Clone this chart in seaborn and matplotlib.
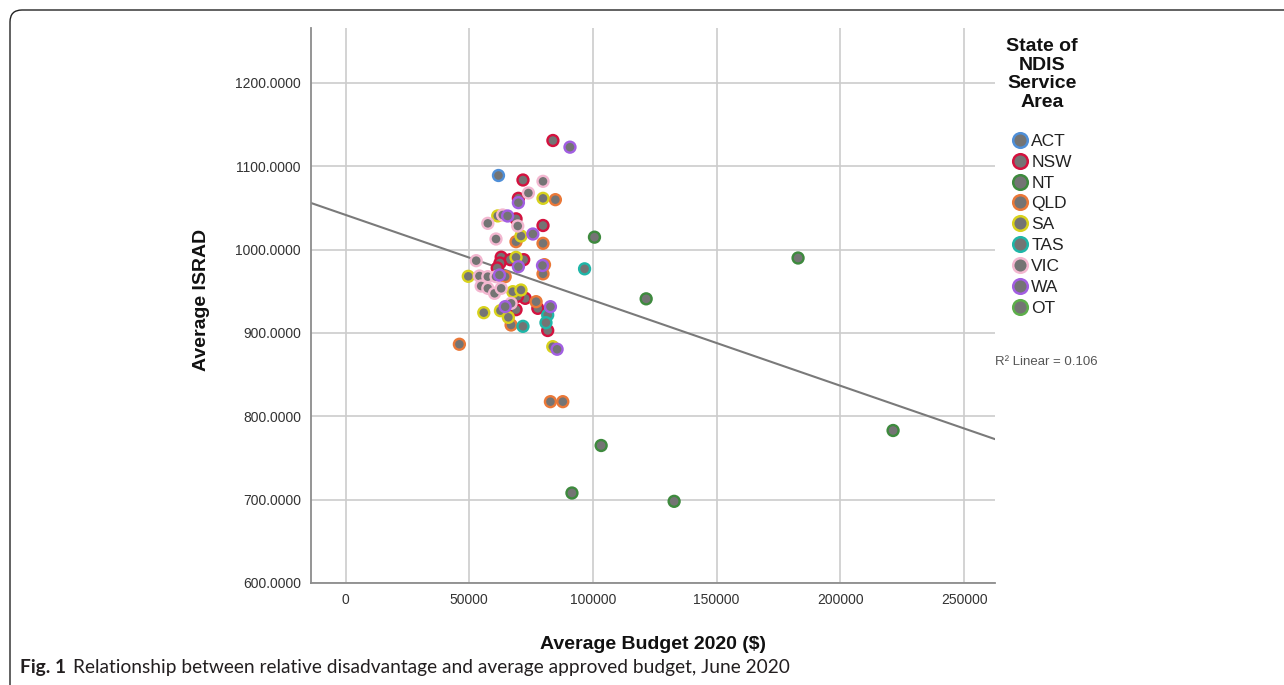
import matplotlib
matplotlib.use("Agg")
import matplotlib.pyplot as plt
from matplotlib.lines import Line2D
from matplotlib.patches import FancyBboxPatch
from matplotlib.transforms import IdentityTransform
import numpy as np
import pandas as pd
import seaborn as sns

# Average approved budget (x, $) and average ISRAD (y) per NDIS service area
states = ["ACT", "NSW", "NT", "QLD", "SA", "TAS", "VIC", "WA", "OT"]

act_budget = [61800]
act_israd = [1089]

nsw_budget = [83800, 71700, 69850, 68900, 79800, 62900, 66600, 72000, 62400,
              61300, 72600, 77700, 68900, 81700, 69500]
nsw_israd = [1131, 1083.6, 1061.6, 1037, 1029, 991, 988, 988, 984,
             978, 941.6, 929.6, 928, 903, 944]

nt_budget = [100600, 121500, 182900, 221300, 103300, 91500, 132800]
nt_israd = [1015, 941, 990, 783, 765, 708, 698]

qld_budget = [84800, 68900, 79800, 80400, 79800, 64500, 77000, 66900, 46000,
              82800, 87800]
qld_israd = [1060, 1009.6, 1007.6, 982, 971, 967.6, 937.6, 909.6, 886.5,
             817.6, 817.6]

sa_budget = [79800, 61500, 70900, 68900, 49600, 55850, 62600, 65800, 67600,
             70900, 83750]
sa_israd = [1061.6, 1040.5, 1016.4, 990.8, 968, 924.4, 926.8, 918.8, 949.6,
            951.6, 883.6]

tas_budget = [96600, 81700, 81000, 71700]
tas_israd = [977, 921.6, 912.4, 908]

vic_budget = [79800, 73900, 63500, 57500, 69600, 60800, 52800, 54100, 57500,
              60800, 54800, 57500, 60200, 62900, 66900]
vic_israd = [1082, 1068, 1041.6, 1031.6, 1028.4, 1012.8, 986.8, 968.4, 967.6,
             967.6, 956.4, 953.6, 947.6, 953.6, 935.6]

wa_budget = [90700, 69850, 65500, 75700, 79600, 69850, 62200, 64500, 82800,
             85500]
wa_israd = [1123, 1056.4, 1040.4, 1018.8, 981, 979.6, 969.6, 931.6, 931.6,
            880.5]

ot_budget = []
ot_israd = []

# Fit line shown on the chart (R^2 linear = 0.106)
fit_intercept = 1041.7
fit_slope = -0.001025
r2_label = "R\u00b2 Linear = 0.106"

x_ticks = [0, 50000, 100000, 150000, 200000, 250000]
y_ticks = [600, 700, 800, 900, 1000, 1100, 1200]

edge_colors = {
    "ACT": "#4f8fd8", "NSW": "#d4123f", "NT": "#3e8a3e", "QLD": "#ea7838",
    "SA": "#d8d21c", "TAS": "#1fb6a8", "VIC": "#f3b7d0", "WA": "#a25ee2",
    "OT": "#5daf4a",
}

series = {
    "ACT": (act_budget, act_israd), "NSW": (nsw_budget, nsw_israd),
    "NT": (nt_budget, nt_israd), "QLD": (qld_budget, qld_israd),
    "SA": (sa_budget, sa_israd), "TAS": (tas_budget, tas_israd),
    "VIC": (vic_budget, vic_israd), "WA": (wa_budget, wa_israd),
    "OT": (ot_budget, ot_israd),
}
rows = []
for st, (bx, iy) in series.items():
    for b, v in zip(bx, iy):
        rows.append({"budget": b, "israd": v, "state": st})
df = pd.DataFrame(rows)

sns.set_style("white")
plt.rcParams["font.family"] = ["Liberation Sans", "DejaVu Sans"]

W, H = 1284, 685
fig = plt.figure(figsize=(W / 100, H / 100), dpi=100)
ax = fig.add_axes([310.7 / W, 1 - 583 / H, (995 - 310.7) / W, (583 - 28) / H])

sns.scatterplot(data=df, x="budget", y="israd", hue="state", hue_order=states,
                palette=edge_colors, s=62, linewidth=0, legend=False, ax=ax,
                zorder=3)
pts = ax.collections[0]
rim = pts.get_facecolors().copy()
pts.set_edgecolors(rim)
pts.set_facecolors("#747474")
pts.set_linewidths(1.7)

x0, x1 = -14100, 262500
ax.set_xlim(x0, x1)
ax.set_ylim(600, 1266)
xs = np.array([x0, x1])
ax.plot(xs, fit_intercept + fit_slope * xs, color="#7a7a7a", lw=1.5, zorder=2)

ax.set_xticks(x_ticks)
ax.set_xticklabels([str(t) for t in x_ticks])
ax.set_yticks(y_ticks)
ax.set_yticklabels([f"{t:.4f}" for t in y_ticks])
ax.tick_params(length=0, labelsize=10, colors="#333333", pad=7)
ax.grid(True, color="#cccccc", lw=1.2, zorder=0)
ax.set_axisbelow(True)
for side in ("top", "right"):
    ax.spines[side].set_visible(False)
for side in ("left", "bottom"):
    ax.spines[side].set_color("#8c8c8c")
    ax.spines[side].set_linewidth(1.3)

ax.set_ylabel("Average ISRAD", fontsize=14, fontweight="bold", color="#111111")
ax.yaxis.set_label_coords((210 - 310.7) / (995 - 310.7), (583 - 300) / (583 - 28))
ax.set_xlabel("Average Budget 2020 ($)", fontsize=14, fontweight="bold",
              color="#111111")
ax.xaxis.set_label_coords(0.5, (583 - 636) / (583 - 28))

# Legend: centred bold title, then one ring marker per state
fig.text(1042 / W, 1 - 38 / H, "State of\nNDIS\nService\nArea", fontsize=14,
         fontweight="bold", ha="center", va="top", multialignment="center",
         linespacing=1.13, color="#111111")
handles = [Line2D([], [], ls="", marker="o", markersize=10.5,
                  markerfacecolor="#747474", markeredgecolor=edge_colors[s],
                  markeredgewidth=1.8, label=s) for s in states]
leg = fig.legend(handles=handles, loc="upper left",
                 bbox_to_anchor=(1001 / W, 1 - 125 / H), frameon=False,
                 fontsize=12.5, handletextpad=0.05, labelspacing=0.33,
                 borderpad=0, handlelength=1.2)
for t in leg.get_texts():
    t.set_color("#222222")

fig.text(995 / W, 1 - 362 / H, r2_label, fontsize=9.5, color="#555555",
         va="center", ha="left")

fig.text(20 / W, 1 - 668 / H, "Fig. 1", fontsize=13.8, fontweight="bold",
         family=["Lato", "DejaVu Sans"], va="center", color="#231f20")
fig.text(73 / W, 1 - 668 / H,
         "Relationship between relative disadvantage and average approved budget, June 2020",
         fontsize=13.8, family=["Lato", "DejaVu Sans"], va="center",
         color="#231f20")

frame = FancyBboxPatch((10, -60), 1400, H - 10 + 60,
                       boxstyle="round,pad=0,rounding_size=12",
                       transform=IdentityTransform(), fill=False,
                       ec="#222222", lw=1.0, clip_on=False)
fig.patches.append(frame)

fig.savefig("out.png", dpi=100)
